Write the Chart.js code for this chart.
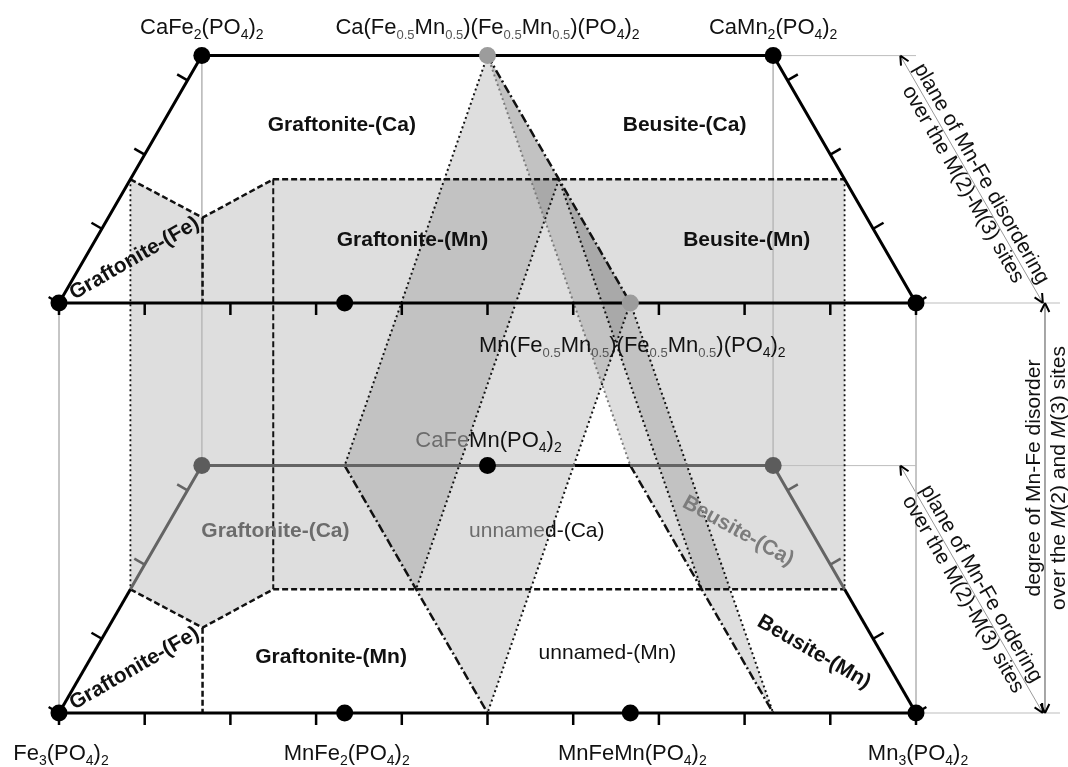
<!DOCTYPE html>
<html>
<head>
<meta charset="utf-8">
<script src="https://cdn.jsdelivr.net/npm/chart.js@4.4.0/dist/chart.umd.min.js"></script>
<style>
  html, body { margin: 0; padding: 0; background: #fff; }
  canvas { display: block; }
</style>
</head>
<body>
<canvas id="diagram" width="1068" height="767"></canvas>
<script>
// every point is [Mn share, Ca share, plane]; plane 1 = Mn-Fe disordered, plane 0 = ordered
const S = Math.sqrt(3) / 2;
const GAP = 410 / 857;

const baseNames = ['Fe_3(PO_4)_2', 'MnFe_2(PO_4)_2', 'MnFeMn(PO_4)_2', 'Mn_3(PO_4)_2'];
const baseMn = [0, 1 / 3, 2 / 3, 1];
const topNames = ['CaFe_2(PO_4)_2', 'Ca(Fe_{0.5}Mn_{0.5})(Fe_{0.5}Mn_{0.5})(PO_4)_2', 'CaMn_2(PO_4)_2'];
const topMn = [0, 1 / 3, 2 / 3];
const caMax = 1 / 3;
const caSplit = 1 / 6;
const kink = [0.11, 0.115];
const edgeTicks = [0, 0.1, 0.2, 0.3, 0.4, 0.5, 0.6, 0.7, 0.8, 0.9, 1];
const sideTicks = [0, 0.1, 0.2, 0.3];

const phaseNames = ['Graftonite-(Ca)', 'Beusite-(Ca)', 'Graftonite-(Mn)', 'Beusite-(Mn)', 'Graftonite-(Fe)',
  'Graftonite-(Ca)', 'unnamed-(Ca)', 'Beusite-(Ca)', 'Graftonite-(Fe)', 'Graftonite-(Mn)', 'unnamed-(Mn)', 'Beusite-(Mn)'];
const phaseAt = [[0.21, 0.24, 1], [0.61, 0.24, 1], [0.37, 0.085, 1], [0.76, 0.085, 1], [0.058, 0.06, 1],
  [0.13, 0.245, 0], [0.435, 0.245, 0], [0.67, 0.245, 0], [0.058, 0.06, 0], [0.28, 0.075, 0], [0.60, 0.08, 0], [0.84, 0.082, 0]];
const phaseTilt = [0, 0, 0, 0, -30, 0, 0, 29, -30, 0, 0, 30];

const blackDots = [[0, 1 / 3, 1], [2 / 3, 1 / 3, 1], [0, 0, 1], [1 / 3, 0, 1], [1, 0, 1],
  [0, 0, 0], [1 / 3, 0, 0], [2 / 3, 0, 0], [1, 0, 0], [1 / 3, 1 / 3, 0]];
const paleDots = [[1 / 3, 1 / 3, 1], [2 / 3, 0, 1]];
const greyDots = [[0, 1 / 3, 0], [2 / 3, 1 / 3, 0]];

// two mixing planes through the disordered Ca(Fe,Mn)(Fe,Mn) and Mn(Fe,Mn)(Fe,Mn) line
const planeA = [[1 / 3, 1 / 3, 1], [2 / 3, 0, 1], [1 / 2, 0, 0], [1 / 6, 1 / 3, 0]];
const planeB = [[1 / 3, 1 / 3, 1], [2 / 3, 0, 1], [5 / 6, 0, 0], [1 / 2, 1 / 3, 0]];
const caWallLeft = [[0, caSplit, 1], [kink[0], kink[1], 1], [1 / 6, caSplit, 1], [1 / 2, caSplit, 1],
  [1 / 3, caSplit, 0], [1 / 6, caSplit, 0], [kink[0], kink[1], 0], [0, caSplit, 0]];
const caWallRight = [[1 / 2, caSplit, 1], [5 / 6, caSplit, 1], [5 / 6, caSplit, 0], [2 / 3, caSplit, 0]];

const noteTop = ['plane of Mn-Fe disordering', 'over the M(2)-M(3) sites'];
const noteLow = ['plane of Mn-Fe ordering', 'over the M(2)-M(3) sites'];
const noteSide = ['degree of Mn-Fe disorder', 'over the *M*(2) and *M*(3) sites'];
const arrowMn = [0.815, 1.148];
const sideArrowMn = 1.1505;
const guideEnd = 1.168;

const FONT = '"Liberation Sans", Arial, sans-serif';
const GREYED = '#646464';
const GREYED_TEXT = '#6c6c6c';
const INK = '#111';

function T(m, c, lvl) { return { x: m + c / 2, y: c * S + lvl * GAP }; }
function Tp(p) { return T(p[0], p[1], p[2]); }

const datasets = [];
function seg(pts, color, width, dash, order) {
  datasets.push({
    data: pts, showLine: true, borderColor: color, borderWidth: width, borderDash: dash || [],
    pointRadius: 0, pointHoverRadius: 0, fill: false, order: order, borderJoinStyle: 'miter'
  });
}

// thin construction lines
[[0, 0], [1, 0], [0, caMax], [2 / 3, caMax]].forEach(([m, c]) =>
  seg([T(m, c, 1), T(m, c, 0)], '#bdbdbd', 1, [], 5));
[1, 0].forEach(l => {
  seg([T(2 / 3, caMax, l), T(5 / 6, caMax, l)], '#bdbdbd', 1, [], 5);
  seg([T(1, 0, l), T(guideEnd, 0, l)], '#bdbdbd', 1, [], 5);
  seg([T(arrowMn[0], caMax, l), T(arrowMn[1], 0, l)], '#9a9a9a', 1, [], 5);
});
seg([T(sideArrowMn, 0, 1), T(sideArrowMn, 0, 0)], '#9a9a9a', 1, [], 5);

// phase boundaries inside each plane
[1, 0].forEach(l => {
  seg([T(0, caSplit, l), T(kink[0], kink[1], l), T(1 / 6, caSplit, l), T(5 / 6, caSplit, l)], INK, 2.5, [6, 3], 3);
  seg([T(kink[0], kink[1], l), T(kink[0] + kink[1] / 2, 0, l)], INK, 2.5, [6, 3], 3);
});
seg([T(1 / 6, caSplit, 1), T(1 / 6, caSplit, 0)], INK, 2, [6, 3], 3);
seg([T(0, caSplit, 1), T(0, caSplit, 0)], INK, 1.8, [2, 3], 3);
seg([T(5 / 6, caSplit, 1), T(5 / 6, caSplit, 0)], INK, 1.8, [2, 3], 3);

// edges of the two mixing planes
seg([Tp(planeA[0]), Tp(planeA[1])], INK, 2.5, [9, 3, 2, 3], 3);
seg([Tp(planeA[3]), Tp(planeA[2])], INK, 2.5, [9, 3, 2, 3], 3);
seg([Tp(planeB[3]), Tp(planeB[2])], INK, 2.5, [9, 3, 2, 3], 3);
seg([Tp(planeA[0]), Tp(planeA[3])], INK, 2, [2, 3], 3);
seg([Tp(planeA[1]), Tp(planeA[2])], INK, 2, [2, 3], 3);
seg([Tp(planeB[0]), Tp(planeB[3])], '#7a7a7a', 2, [2, 3], 3);
seg([Tp(planeB[1]), Tp(planeB[2])], INK, 2, [2, 3], 3);
seg([T(1 / 2, caSplit, 1), T(1 / 3, caSplit, 0)], INK, 2, [2, 3], 3);
seg([T(1 / 2, caSplit, 1), T(2 / 3, caSplit, 0)], INK, 2, [2, 3], 3);

// outlines of the two planes
seg([T(0, 0, 1), T(1, 0, 1)], '#000', 3, [], 2);
seg([T(1, 0, 1), T(2 / 3, caMax, 1), T(0, caMax, 1), T(0, 0, 1)], '#000', 3, [], 2);
seg([T(0, 0, 0), T(1, 0, 0)], '#000', 3, [], 2);
seg([T(0, 0, 0), T(0, caSplit, 0)], '#000', 3, [], 2);
seg([T(0, caSplit, 0), T(0, caMax, 0), T(0.435, caMax, 0)], GREYED, 3, [], 2);
seg([T(0.435, caMax, 0), T(0.5, caMax, 0)], '#000', 3, [], 2);
seg([T(0.5, caMax, 0), T(2 / 3, caMax, 0), T(5 / 6, caSplit, 0)], GREYED, 3, [], 2);
seg([T(5 / 6, caSplit, 0), T(1, 0, 0)], '#000', 3, [], 2);

// ticks
const TL = 12 / 857;
[1, 0].forEach(l => {
  edgeTicks.forEach(m => {
    const b = T(m, 0, l);
    seg([b, { x: b.x, y: b.y - TL }], '#000', 2.5, [], 2);
  });
  sideTicks.forEach(c => {
    const col = (l === 0 && c > caSplit) ? GREYED : '#000';
    const a = T(0, c, l), b = T(1 - c, c, l);
    seg([a, { x: a.x - S * TL, y: a.y + 0.5 * TL }], col, 2.5, [], 2);
    seg([b, { x: b.x + S * TL, y: b.y + 0.5 * TL }], col, 2.5, [], 2);
  });
});

// compositions
function dots(list, color, r) {
  datasets.push({ data: list.map(Tp), showLine: false, pointRadius: r, pointHoverRadius: r,
    pointBackgroundColor: color, pointBorderWidth: 0, order: 0 });
}
dots(blackDots, '#000', 8.5);
dots(paleDots, '#9c9c9c', 8.5);
dots(greyDots, '#5c5c5c', 8.5);

function parseFormula(str, size, color) {
  const runs = [];
  const re = /_\{([^}]*)\}|_(.)|([^_]+)/g;
  let m;
  while ((m = re.exec(str))) {
    if (m[3]) runs.push({ t: m[3], font: size + 'px ' + FONT, color: color, dy: 0 });
    else {
      const t = m[1] || m[2];
      const sz = t.length > 1 ? Math.round(size * 0.58) : Math.round(size * 0.64);
      runs.push({ t: t, font: sz + 'px ' + FONT, color: t.length > 1 ? '#555' : color, dy: 5 });
    }
  }
  return runs;
}
function parseItalic(str, size, color) {
  return str.split('*').map((t, i) => ({ t: t, font: (i % 2 ? 'italic ' : '') + size + 'px ' + FONT, color: color, dy: 0 }));
}
function drawRuns(ctx, runs, x, y, angle, baseline) {
  ctx.save();
  ctx.translate(x, y);
  ctx.rotate(angle * Math.PI / 180);
  ctx.textBaseline = baseline;
  ctx.textAlign = 'left';
  let w = 0;
  runs.forEach(r => { ctx.font = r.font; r.w = ctx.measureText(r.t).width; w += r.w; });
  let cx = -w / 2;
  runs.forEach(r => { ctx.font = r.font; ctx.fillStyle = r.color; ctx.fillText(r.t, cx, r.dy); cx += r.w; });
  ctx.restore();
}
function head(ctx, tip, from) {
  const a = Math.atan2(from.y - tip.y, from.x - tip.x);
  ctx.beginPath();
  [-0.45, 0.45].forEach(d => {
    ctx.moveTo(tip.x, tip.y);
    ctx.lineTo(tip.x + 10 * Math.cos(a + d), tip.y + 10 * Math.sin(a + d));
  });
  ctx.stroke();
}

const decor = {
  id: 'decor',
  beforeDatasetsDraw(chart) {
    const { ctx, scales: { x, y } } = chart;
    ctx.save();
    ctx.fillStyle = 'rgba(0,0,0,0.13)';
    [caWallLeft, caWallRight, planeA, planeB].forEach(poly => {
      ctx.beginPath();
      poly.forEach((p, i) => {
        const q = Tp(p);
        const px = x.getPixelForValue(q.x), py = y.getPixelForValue(q.y);
        if (i) ctx.lineTo(px, py); else ctx.moveTo(px, py);
      });
      ctx.closePath();
      ctx.fill();
    });
    ctx.restore();
  },
  afterDatasetsDraw(chart) {
    const { ctx, scales: { x, y } } = chart;
    const px = q => ({ x: x.getPixelForValue(q.x), y: y.getPixelForValue(q.y) });
    ctx.save();

    topNames.forEach((n, i) => {
      const p = px(T(topMn[i], caMax, 1));
      drawRuns(ctx, parseFormula(n, 22, INK), p.x, p.y - 22, 0, 'alphabetic');
    });
    baseNames.forEach((n, i) => {
      const p = px(T(baseMn[i], 0, 0));
      drawRuns(ctx, parseFormula(n, 22, INK), p.x + 2, p.y + 47, 0, 'alphabetic');
    });
    let p = px(T(2 / 3, 0, 1));
    drawRuns(ctx, parseFormula('Mn(Fe_{0.5}Mn_{0.5})(Fe_{0.5}Mn_{0.5})(PO_4)_2', 22, INK), p.x + 2, p.y + 49, 0, 'alphabetic');
    p = px(T(1 / 3, caMax, 0));
    drawRuns(ctx, [{ t: 'CaFe', font: '22px ' + FONT, color: GREYED_TEXT, dy: 0 }].concat(parseFormula('Mn(PO_4)_2', 22, INK)),
      p.x + 1, p.y - 19, 0, 'alphabetic');

    phaseNames.forEach((name, i) => {
      const q = px(Tp(phaseAt[i]));
      const font = (name.startsWith('unnamed') ? '' : 'bold ') + '21px ' + FONT;
      let runs;
      if (i === 6) runs = [{ t: 'unname', font, color: GREYED_TEXT, dy: 0 }, { t: 'd-(Ca)', font, color: INK, dy: 0 }];
      else runs = [{ t: name, font, color: (i === 5) ? GREYED_TEXT : (i === 7 ? '#7c7c7c' : INK), dy: 0 }];
      drawRuns(ctx, runs, q.x, q.y, phaseTilt[i], 'middle');
    });

    // arrows with their notes
    ctx.strokeStyle = '#000';
    ctx.lineWidth = 2;
    [[1, noteTop], [0, noteLow]].forEach(([l, note]) => {
      const a = px(T(arrowMn[0], caMax, l)), b = px(T(arrowMn[1], 0, l));
      head(ctx, a, b); head(ctx, b, a);
      const ang = Math.atan2(b.y - a.y, b.x - a.x);
      const mx = (a.x + b.x) / 2, my = (a.y + b.y) / 2;
      const ux = Math.sin(ang), uy = -Math.cos(ang);
      drawRuns(ctx, parseItalic(note[0], 21, INK), mx + ux * 11, my + uy * 11, ang * 180 / Math.PI, 'middle');
      drawRuns(ctx, parseItalic(note[1], 21, INK), mx - ux * 10, my - uy * 10, ang * 180 / Math.PI, 'middle');
    });
    const a = px(T(sideArrowMn, 0, 1)), b = px(T(sideArrowMn, 0, 0));
    head(ctx, a, b); head(ctx, b, a);
    const my = (a.y + b.y) / 2 - 30;
    drawRuns(ctx, parseItalic(noteSide[0], 21, INK), a.x - 11, my, -90, 'middle');
    drawRuns(ctx, parseItalic(noteSide[1], 21, INK), a.x + 14, my, -90, 'middle');
    ctx.restore();
  }
};

new Chart(document.getElementById('diagram'), {
  type: 'scatter',
  data: { datasets: datasets },
  options: {
    responsive: false,
    animation: false,
    events: [],
    layout: { padding: 0, autoPadding: false },
    scales: {
      x: { type: 'linear', min: -59 / 857, max: (1068 - 59) / 857, display: false },
      y: { type: 'linear', min: -54 / 857, max: 713 / 857, display: false }
    },
    plugins: { legend: { display: false }, tooltip: { enabled: false } }
  },
  plugins: [decor]
});
</script>
</body>
</html>
